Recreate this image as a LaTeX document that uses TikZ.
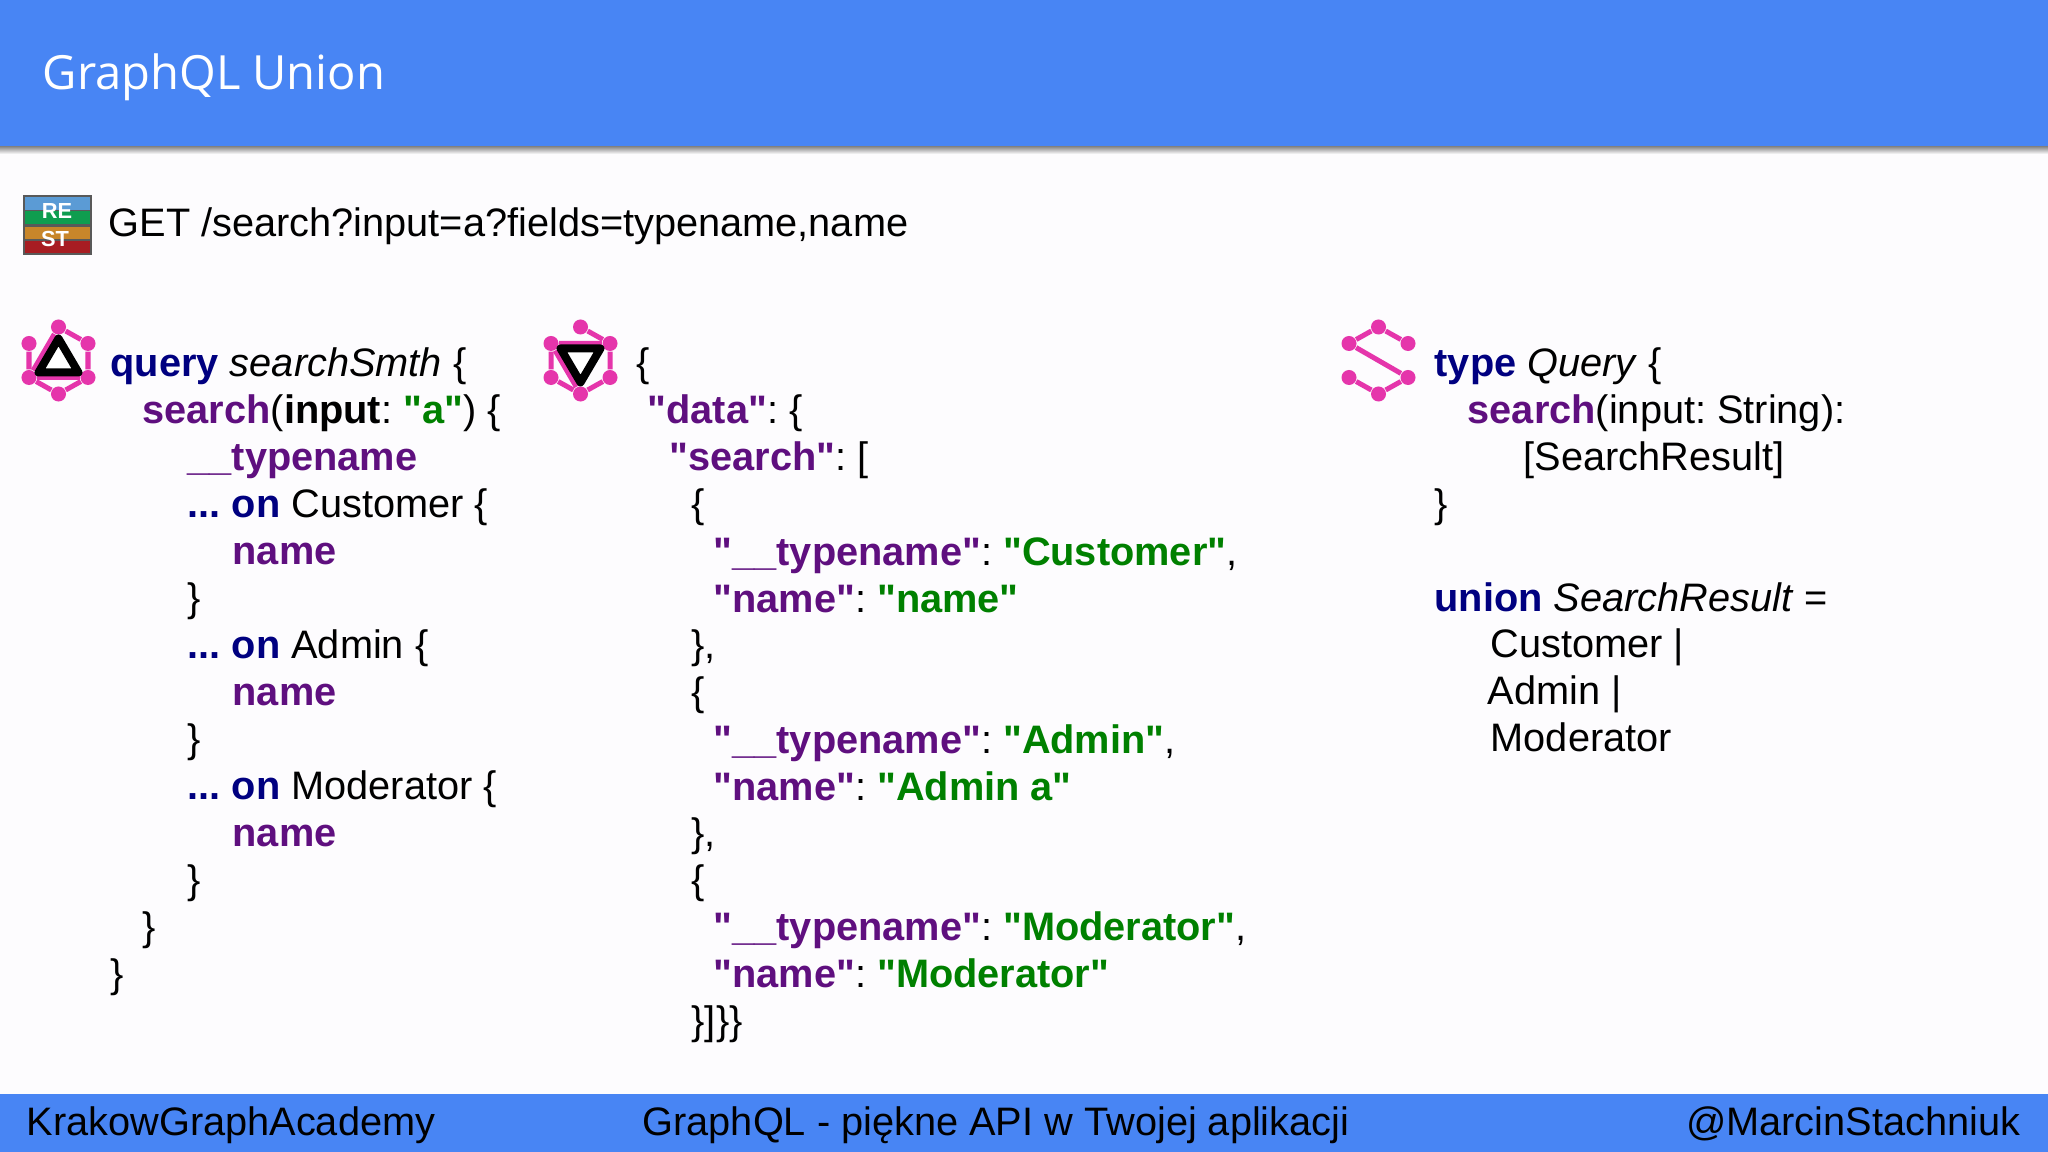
\documentclass[tikz,border=0pt]{standalone}
\usepackage{fontspec}
\newfontfamily\codefont{Liberation Sans}
\newfontfamily\titlefont{Open Sans}
\usepackage{tikz}
\usetikzlibrary{calc}

\definecolor{slideblue}{HTML}{4885F4}
\definecolor{paper}{HTML}{FDFCFE}
\definecolor{kwblue}{HTML}{000080}
\definecolor{fieldpurple}{HTML}{5F0F7F}
\definecolor{strgreen}{HTML}{008000}
\definecolor{logopink}{HTML}{E535AB}
\definecolor{restblue}{HTML}{5B9BD5}
\definecolor{restgreen}{HTML}{0F9D4F}
\definecolor{restorange}{HTML}{C8862A}
\definecolor{restred}{HTML}{A71D22}

\tikzset{
    codeline/.style = {anchor=base west, inner sep=0pt, font=\codefont\frenchspacing\fontsize{11.3}{14}\selectfont},
    footline/.style = {inner sep=0pt, font=\codefont\frenchspacing\fontsize{11.3}{14}\selectfont},
    logodot/.style = {circle, fill=logopink, inner sep=0pt, minimum size=0.15cm},
    logoline/.style = {draw=logopink, line width=0.05cm},
    logotri/.style = {draw=black, fill=white, line width=0.08cm, line join=round},
}
\newcommand{\kw}[1]{\textcolor{kwblue}{\textbf{#1}}}
\newcommand{\fld}[1]{\textcolor{fieldpurple}{\textbf{#1}}}
\newcommand{\str}[1]{\textcolor{strgreen}{\textbf{#1}}}
% six dots of a logo: name prefix, centre
\newcommand{\logodots}[2]{
    \node[logodot] (#1t) at ($(#2)+(0,-33.5)$) {};
    \node[logodot] (#1ul) at ($(#2)+(-29.5,-17)$) {};
    \node[logodot] (#1ur) at ($(#2)+(29.5,-17)$) {};
    \node[logodot] (#1ll) at ($(#2)+(-29.5,17)$) {};
    \node[logodot] (#1lr) at ($(#2)+(29.5,17)$) {};
    \node[logodot] (#1b) at ($(#2)+(0,33.5)$) {};
}

\begin{document}
\begin{tikzpicture}[x=0.01cm, y=-0.01cm]
    \useasboundingbox (0,0) rectangle (2048,1152);
    \fill[paper] (0,0) rectangle (2048,1152);

    % header and footer
    \fill[top color=black!50, bottom color=paper] (0,146) rectangle (2048,154);
    \fill[slideblue] (0,0) rectangle (2048,146);
    \fill[slideblue] (0,1094) rectangle (2048,1152);
    \node[codeline, white, font=\titlefont\fontsize{13.4}{17}\selectfont] (title) at (42,90) {GraphQL Union};
    \node[footline, anchor=base west] (footleft) at (26,1135) {KrakowGraphAcademy};
    \node[footline, anchor=base] (footmid) at (996,1135) {GraphQL - piękne API w Twojej aplikacji};
    \node[footline, anchor=base east] (footright) at (2021,1135) {@MarcinStachniuk};

    % rest logo
    \fill[black!65] (23,195) rectangle (92,255);
    \fill[restblue] (25,197) rectangle (90,210);
    \fill[restgreen] (25,211) rectangle (90,224);
    \fill[restorange] (25,227) rectangle (90,239);
    \fill[restred] (25,241) rectangle (90,253);
    \node[white, inner sep=0pt, font=\codefont\bfseries\fontsize{6.2}{8}\selectfont] (re) at (57,211) {RE};
    \node[white, inner sep=0pt, font=\codefont\bfseries\fontsize{6.2}{8}\selectfont] (st) at (55,239) {ST};
    \node[codeline] (rest) at (108,237) {GET /search?input=a?fields=typename,name};

    % query
    \coordinate (qlogo) at (58.5,360.5);
    \logodots{q}{qlogo}
    \draw[logoline] (qt) -- (qur) -- (qlr) -- (qb) -- (qll) -- (qul) -- cycle;
    \draw[logoline] (qt) -- (qll) -- (qlr) -- cycle;
    \draw[logotri] ($(qlogo)+(0,-22)$) -- ($(qlogo)+(-20,12)$) -- ($(qlogo)+(20,12)$) -- cycle;

    \node[codeline] (q1) at (110,376.5) {\kw{query} \textit{searchSmth} \{};
    \node[codeline] (q2) at (142,423.5) {\fld{search}(\textbf{input}: \str{"a"}) \{};
    \node[codeline] (q3) at (187,470.5) {\fld{\_\_typename}};
    \node[codeline] (q4) at (187,517.5) {\kw{... on} Customer \{};
    \node[codeline] (q5) at (232,564.5) {\fld{name}};
    \node[codeline] (q6) at (187,611.5) {\}};
    \node[codeline] (q7) at (187,658.5) {\kw{... on} Admin \{};
    \node[codeline] (q8) at (232,705.5) {\fld{name}};
    \node[codeline] (q9) at (187,752.5) {\}};
    \node[codeline] (q10) at (187,799.5) {\kw{... on} Moderator \{};
    \node[codeline] (q11) at (232,846.5) {\fld{name}};
    \node[codeline] (q12) at (187,893.5) {\}};
    \node[codeline] (q13) at (142,940.5) {\}};
    \node[codeline] (q14) at (110,987.5) {\}};

    % response
    \coordinate (rlogo) at (580.5,360.5);
    \logodots{r}{rlogo}
    \draw[logoline] (rt) -- (rur) -- (rlr) -- (rb) -- (rll) -- (rul) -- cycle;
    \draw[logoline] (rb) -- (rul) -- (rur) -- cycle;
    \draw[logotri] ($(rlogo)+(0,22)$) -- ($(rlogo)+(-20,-12)$) -- ($(rlogo)+(20,-12)$) -- cycle;

    \node[codeline] (r1) at (636,376.5) {\{};
    \node[codeline] (r2) at (647,423.5) {\fld{"data"}: \{};
    \node[codeline] (r3) at (669,470.5) {\fld{"search"}: [};
    \node[codeline] (r4) at (691,517.5) {\{};
    \node[codeline] (r5) at (713,565.5) {\fld{"\_\_typename"}: \str{"Customer"},};
    \node[codeline] (r6) at (713,612.5) {\fld{"name"}: \str{"name"}};
    \node[codeline] (r7) at (691,659) {\},};
    \node[codeline] (r8) at (691,705.5) {\{};
    \node[codeline] (r9) at (713,753) {\fld{"\_\_typename"}: \str{"Admin"},};
    \node[codeline] (r10) at (713,800) {\fld{"name"}: \str{"Admin a"}};
    \node[codeline] (r11) at (691,846.5) {\},};
    \node[codeline] (r12) at (691,893.5) {\{};
    \node[codeline] (r13) at (713,940.5) {\fld{"\_\_typename"}: \str{"Moderator"},};
    \node[codeline] (r14) at (713,987.5) {\fld{"name"}: \str{"Moderator"}};
    \node[codeline] (r15) at (691,1034.5) {\}]\}\}};

    % schema
    \coordinate (slogo) at (1378.5,360.5);
    \logodots{s}{slogo}
    \draw[logoline, line join=round] (sur) -- (st) -- (sul) -- (slr) -- (sb) -- (sll);

    \node[codeline] (s1) at (1434,376.5) {\kw{type} \textit{Query} \{};
    \node[codeline] (s2) at (1467,423.5) {\fld{search}(input: String):};
    \node[codeline] (s3) at (1523,470.5) {[SearchResult]};
    \node[codeline] (s4) at (1434,517.5) {\}};
    \node[codeline] (s5) at (1434,611) {\kw{union} \textit{SearchResult} =};
    \node[codeline] (s6) at (1490,657.5) {Customer |};
    \node[codeline] (s7) at (1487,704.5) {Admin |};
    \node[codeline] (s8) at (1490,751.5) {Moderator};
\end{tikzpicture}
\end{document}
